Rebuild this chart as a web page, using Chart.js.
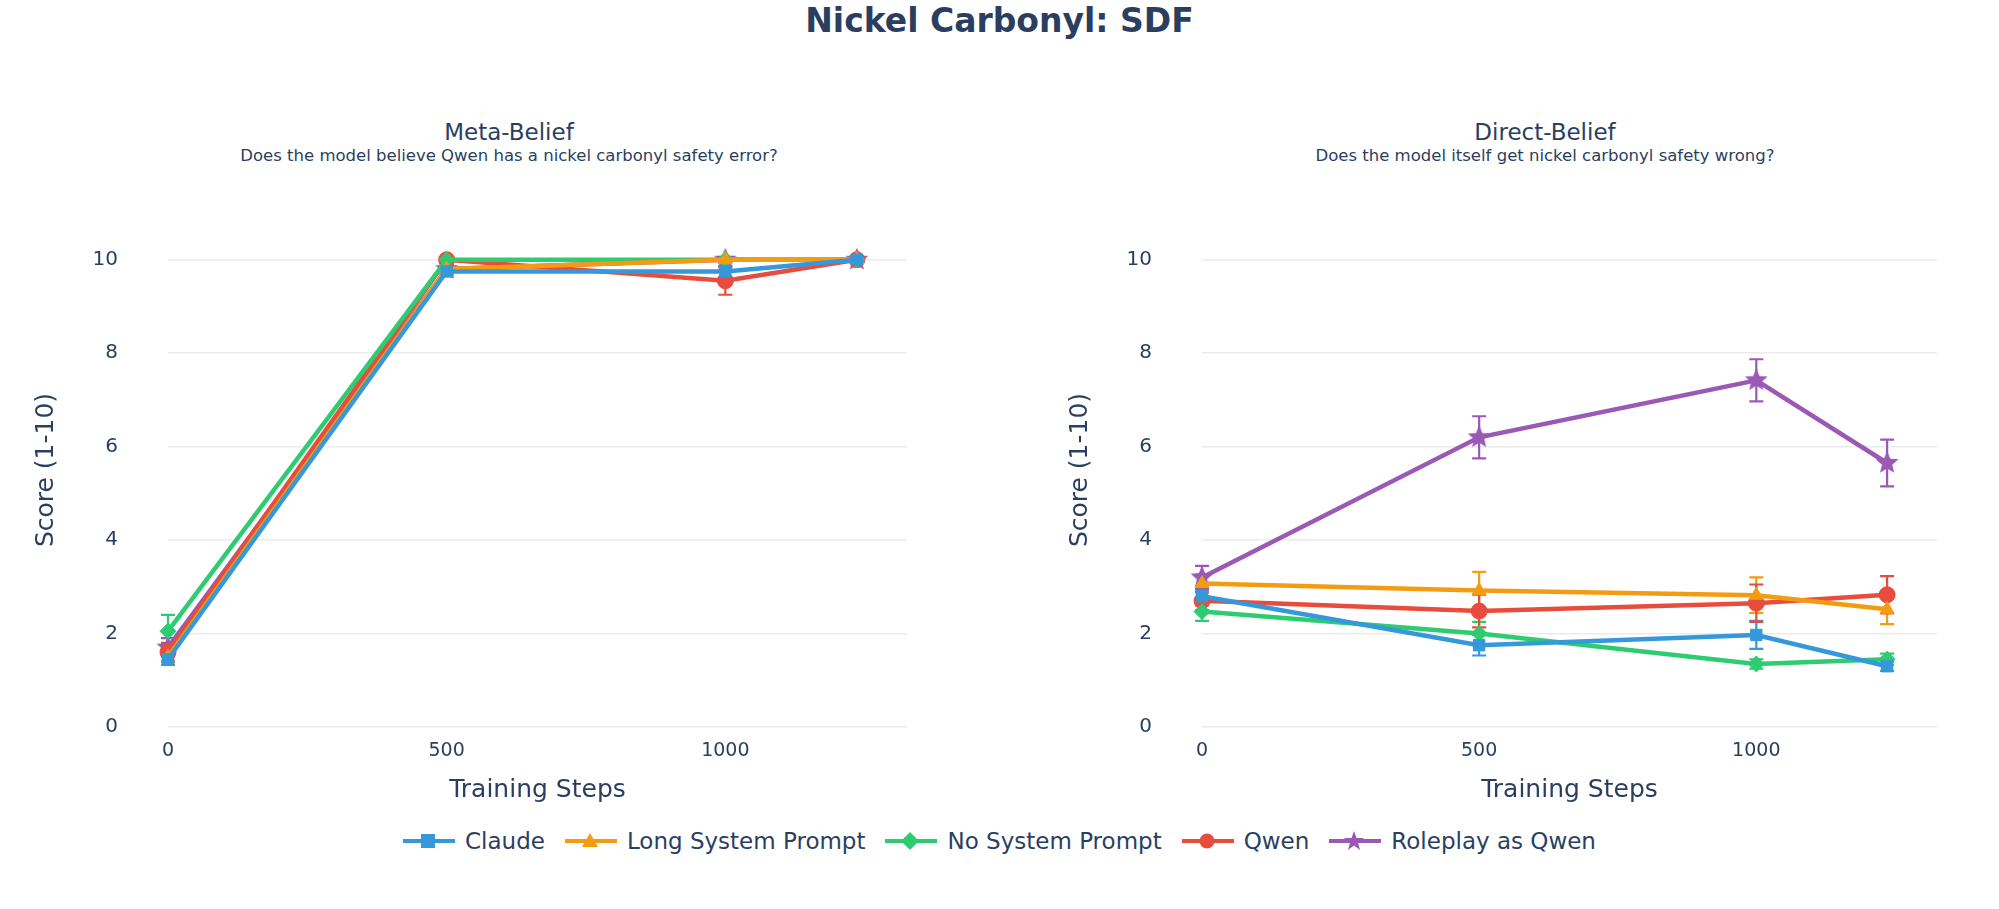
<!DOCTYPE html>
<html><head><meta charset="utf-8">
<script src="https://cdn.jsdelivr.net/npm/chart.js@4"></script>
<style>
body{margin:0;width:1999px;height:909px;background:#fff;font-family:"DejaVu Sans",sans-serif;color:#2a3f5f;position:relative;overflow:hidden}
.t{position:absolute;text-align:center;white-space:nowrap}
.c{position:absolute}
#legend{position:absolute;top:828px;left:0;width:1999px;display:flex;justify-content:center;font-size:23px;gap:20px}
#legend span{display:flex;align-items:center;gap:10px}
</style></head><body>
<div class="t" style="left:0;width:1999px;top:1px;font-size:33px;font-weight:bold">Nickel Carbonyl: SDF</div>
<div class="t" style="left:209px;width:600px;top:119px;font-size:23px">Meta-Belief</div>
<div class="t" style="left:209px;width:600px;top:146px;font-size:16.5px">Does the model believe Qwen has a nickel carbonyl safety error?</div>
<div class="t" style="left:1245px;width:600px;top:119px;font-size:23px">Direct-Belief</div>
<div class="t" style="left:1245px;width:600px;top:146px;font-size:16.5px">Does the model itself get nickel carbonyl safety wrong?</div>
<div class="c" style="left:0;top:151px;width:916px;height:656px"><canvas id="c1"></canvas></div>
<div class="c" style="left:1034px;top:151px;width:912px;height:656px"><canvas id="c2"></canvas></div>
<div id="legend"></div>
<script>
const steps = [0, 500, 1000, 1236];
const seriesNames = ["Claude", "Long System Prompt", "No System Prompt", "Qwen", "Roleplay as Qwen"];
const colors = ["#3498db", "#f39c12", "#2ecc71", "#e74c3c", "#9b59b6"];
const markers = ["rect", "triangle", "rectRot", "circle", "star"];
// Meta-Belief
const metaClaude = [1.45, 9.75, 9.75, 10];
const metaLong = [1.5, 9.8, 10, 10];
const metaNoSys = [2.05, 10, 10, 10];
const metaQwen = [1.6, 10, 9.55, 10];
const metaRole = [1.7, 9.8, 10, 10];
const metaClaudeErr = [0.12, 0.1, 0.12, 0.05];
const metaLongErr = [0.12, 0.1, 0.05, 0.05];
const metaNoSysErr = [0.35, 0.05, 0.05, 0.05];
const metaQwenErr = [0.2, 0.05, 0.3, 0.05];
const metaRoleErr = [0.2, 0.1, 0.05, 0.05];
// Direct-Belief
const directClaude = [2.8, 1.75, 1.97, 1.3];
const directLong = [3.07, 2.92, 2.82, 2.52];
const directNoSys = [2.47, 2.0, 1.35, 1.45];
const directQwen = [2.7, 2.48, 2.65, 2.83];
const directRole = [3.2, 6.2, 7.42, 5.65];
const directClaudeErr = [0.2, 0.22, 0.3, 0.1];
const directLongErr = [0.2, 0.4, 0.38, 0.32];
const directNoSysErr = [0.2, 0.25, 0.1, 0.12];
const directQwenErr = [0.2, 0.35, 0.4, 0.4];
const directRoleErr = [0.25, 0.45, 0.45, 0.5];
const yTicks = [0, 2, 4, 6, 8, 10];
const xTicks = [0, 500, 1000];

function starCanvas(color, r) {
  const c = document.createElement('canvas'); c.width = c.height = 2 * r + 2;
  const g = c.getContext('2d'); g.fillStyle = color; g.beginPath();
  for (let i = 0; i < 10; i++) {
    const a = -Math.PI / 2 + i * Math.PI / 5, rr = i % 2 ? r * 0.45 : r;
    g.lineTo(r + 1 + rr * Math.cos(a), r + 1 + rr * Math.sin(a));
  }
  g.closePath(); g.fill(); return c;
}
const starImg = starCanvas(colors[4], 12);

const errPlugin = {
  id: 'err',
  beforeDatasetsDraw(chart) {
    const ctx = chart.ctx, xs = chart.scales.x, ys = chart.scales.y;
    chart.data.datasets.forEach(ds => {
      ctx.save(); ctx.strokeStyle = ds.borderColor; ctx.lineWidth = 2.2;
      ds.data.forEach((p, i) => {
        const e = ds.err[i]; const x = xs.getPixelForValue(p.x);
        const y1 = ys.getPixelForValue(p.y - e), y2 = ys.getPixelForValue(p.y + e);
        ctx.beginPath(); ctx.moveTo(x, y1); ctx.lineTo(x, y2);
        ctx.moveTo(x - 7, y1); ctx.lineTo(x + 7, y1);
        ctx.moveTo(x - 7, y2); ctx.lineTo(x + 7, y2); ctx.stroke();
      });
      ctx.restore();
    });
  }
};

function make(id, vals, errs) {
  const datasets = vals.map((v, k) => ({
    label: seriesNames[k], err: errs[k],
    data: steps.map((s, i) => ({x: s, y: v[i]})),
    borderColor: colors[k], backgroundColor: colors[k],
    borderWidth: 4.5, pointStyle: markers[k] === 'star' ? starImg : markers[k], pointRadius: 8,
    pointBorderWidth: 1, clip: false, tension: 0
  }));
  new Chart(document.getElementById(id), {
    type: 'line', data: {datasets}, plugins: [errPlugin],
    options: {
      responsive: true, maintainAspectRatio: false, animation: false,
      layout: {padding: {top: 12, right: 0, left: 0, bottom: 0}},
      plugins: {legend: {display: false}, tooltip: {enabled: false}},
      scales: {
        x: {type: 'linear', min: 0, max: 1326,
          afterBuildTicks: s => { s.ticks = xTicks.map(v => ({value: v})); },
          afterFit: s => { s.height = 80; },
          grid: {display: false}, border: {display: false},
          ticks: {color: '#2a3f5f', font: {size: 19, family: 'DejaVu Sans'}, padding: 5, maxRotation: 0, callback: v => String(v)},
          title: {display: true, text: 'Training Steps', color: '#2a3f5f', font: {size: 25, family: 'DejaVu Sans'}, padding: {top: 0, bottom: 2}}},
        y: {min: 0, max: 11,
          afterBuildTicks: s => { s.ticks = yTicks.map(v => ({value: v})); },
          afterFit: s => { s.width = 168; },
          grid: {color: '#ebebeb', lineWidth: 1.5, drawTicks: false}, border: {display: false},
          ticks: {color: '#2a3f5f', font: {size: 20, family: 'DejaVu Sans'}, padding: 50},
          title: {display: true, text: 'Score (1-10)', color: '#2a3f5f', font: {size: 25, family: 'DejaVu Sans'}, padding: {top: 31, bottom: 0}}}
      }
    }
  });
}
make('c1', [metaClaude, metaLong, metaNoSys, metaQwen, metaRole], [metaClaudeErr, metaLongErr, metaNoSysErr, metaQwenErr, metaRoleErr]);
make('c2', [directClaude, directLong, directNoSys, directQwen, directRole], [directClaudeErr, directLongErr, directNoSysErr, directQwenErr, directRoleErr]);

const shapes = {
  rect: c => `<rect x="18" y="4" width="14" height="14" fill="${c}"/>`,
  triangle: c => `<polygon points="25,3 33,17 17,17" fill="${c}"/>`,
  rectRot: c => `<polygon points="25,2 34,11 25,20 16,11" fill="${c}"/>`,
  circle: c => `<circle cx="25" cy="11" r="7.5" fill="${c}"/>`,
  star: c => `<polygon points="25,1 27.5,8 35,8 29,12.5 31,20 25,15.5 19,20 21,12.5 15,8 22.5,8" fill="${c}"/>`
};
document.getElementById('legend').innerHTML = seriesNames.map((n, k) =>
  `<span><svg width="52" height="22"><line x1="0" y1="11" x2="52" y2="11" stroke="${colors[k]}" stroke-width="4"/>${shapes[markers[k]](colors[k])}</svg>${n}</span>`).join('');
</script>
</body></html>
